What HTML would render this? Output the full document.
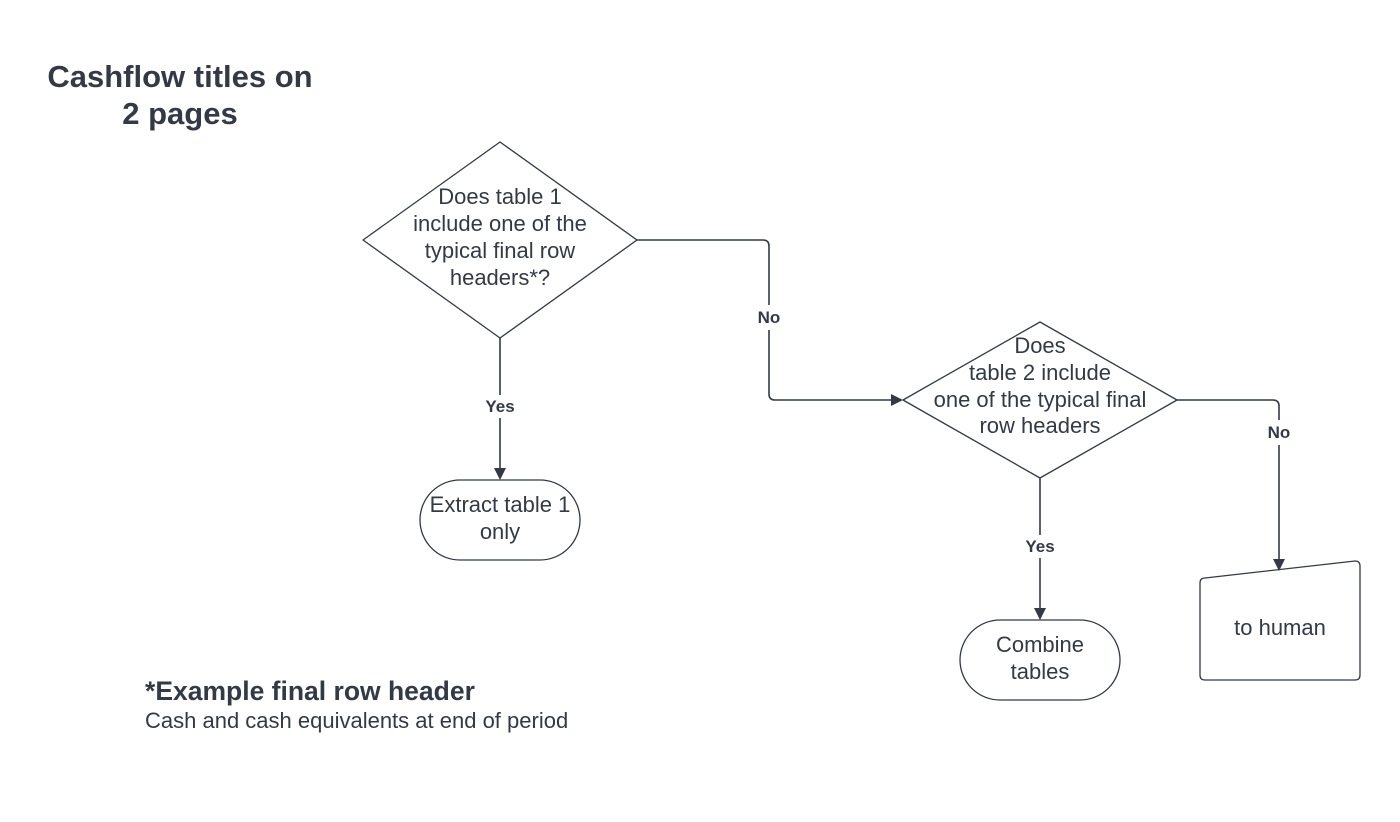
<!DOCTYPE html>
<html><head><style>
html,body{margin:0;padding:0;background:#fff;width:1400px;height:822px;overflow:hidden}
text{font-family:"Liberation Sans",sans-serif;fill:#333a45}
</style></head><body>
<svg width="1400" height="822" viewBox="0 0 1400 822" xmlns="http://www.w3.org/2000/svg">
<defs><marker id="a" markerWidth="12" markerHeight="12" refX="10" refY="6" orient="auto" markerUnits="userSpaceOnUse"><path d="M0,0 L12,6 L0,12 z" fill="#333a45"/></marker></defs>
<text x="180" y="87" font-size="31" font-weight="bold" text-anchor="middle">Cashflow titles on</text>
<text x="180" y="124" font-size="31" font-weight="bold" text-anchor="middle">2 pages</text>
<g fill="none" stroke="#333a45" stroke-width="1.3">
<path d="M500,142 L637,240 L500,338 L363,240 Z" stroke-linejoin="round"/>
<path d="M1040,322 L1177,400 L1040,478 L903,400 Z" stroke-linejoin="round"/>
<rect x="420" y="480" width="160" height="80" rx="40"/>
<rect x="960" y="620" width="160" height="80" rx="40"/>
<path d="M1205,578 L1355,561 Q1360,561 1360,566 L1360,675 Q1360,680 1355,680 L1205,680 Q1200,680 1200,675 L1200,583 Q1200,578 1205,578 Z"/>
<g stroke-width="1.6">
<path d="M500,338 V395 M500,418 V478" marker-end="url(#a)"/>
<path d="M637,240 H763 Q769,240 769,246 V305 M769,330 V394 Q769,400 775,400 H901" marker-end="url(#a)"/>
<path d="M1040,478 V535 M1040,558 V618" marker-end="url(#a)"/>
<path d="M1177,400 H1273 Q1279,400 1279,406 V420 M1279,445 V569" marker-end="url(#a)"/>
</g>
</g>
<g font-size="22" text-anchor="middle">
<text x="500" y="204">Does table 1</text>
<text x="500" y="231">include one of the</text>
<text x="500" y="258">typical final row</text>
<text x="500" y="285">headers*?</text>
<text x="1040" y="353">Does</text>
<text x="1040" y="380">table 2 include</text>
<text x="1040" y="407">one of the typical final</text>
<text x="1040" y="433">row headers</text>
<text x="500" y="512">Extract table 1</text>
<text x="500" y="539">only</text>
<text x="1040" y="652">Combine</text>
<text x="1040" y="679">tables</text>
<text x="1280" y="635">to human</text>
</g>
<g font-size="17" font-weight="bold" text-anchor="middle">
<text x="500" y="412">Yes</text>
<text x="769" y="323">No</text>
<text x="1040" y="552">Yes</text>
<text x="1279" y="438">No</text>
</g>
<text x="145" y="700" font-size="26.5" font-weight="bold">*Example final row header</text>
<text x="145" y="728" font-size="22">Cash and cash equivalents at end of period</text>
</svg>
</body></html>
